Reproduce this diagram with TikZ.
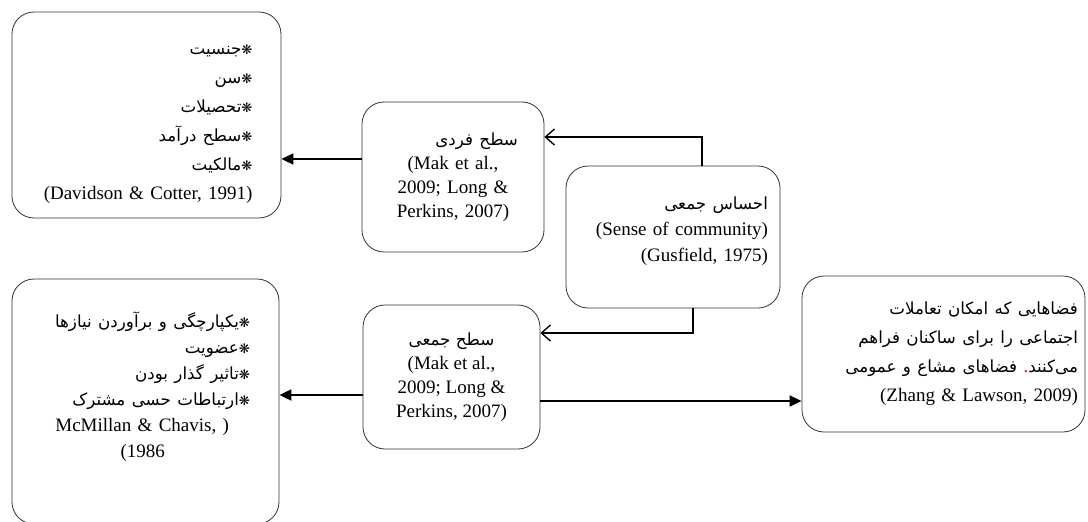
\documentclass[tikz,border=0pt]{standalone}
\usepackage{fontspec}
\setmainfont{Liberation Serif}
\newfontfamily\fa[Script=Arabic,Scale=0.88]{DejaVu Sans}
\TeXXeTstate=1
\usetikzlibrary{arrows.meta, positioning, calc}
\newcommand{\fline}[1]{{\fa\beginR #1\endR}}
\newcommand{\flk}{{\fontsize{15}{15}\selectfont ❋}}

\begin{document}
\begin{tikzpicture}[x=1pt, y=-1pt,
  rbox/.style={draw=black!80, line width=0.8pt, rounded corners=22pt, inner sep=0pt, align=right},
  fsw/.style={font=\fontsize{19}{29}\selectfont},
  fsn/.style={font=\fontsize{19}{24}\selectfont},
  solidarr/.style={-{Triangle[length=12pt,width=11pt]}, line width=1.8pt},
  openarr/.style={-{Straight Barb[length=9pt,width=16pt]}, line width=1.4pt},
]
  \useasboundingbox (0,0) rectangle (1088,522);
  % Boxes
  \node[rbox, fsw, minimum width=269pt, minimum height=206pt, text width=212pt] (vizhegi) at (146.5,115) {
    \mbox{}\\[-1pt]
    \fline{\flk جنسیت}\\
    \fline{\flk سن}\\
    \fline{\flk تحصیلات}\\
    \fline{\flk سطح درآمد}\\
    \fline{\flk مالکیت}\\
    (Davidson \& Cotter, 1991)};
  \node[rbox, font=\fontsize{19}{26}\selectfont, minimum width=267pt, minimum height=245pt, text width=209pt] (abaad) at (145.5,401.5) {
    \fline{\flk یکپارچگی و برآوردن نیازها}\\
    \fline{\flk عضویت}\\
    \fline{\flk تاثیر گذار بودن}\\
    \fline{\flk ارتباطات حسی مشترک}\\
    McMillan \& Chavis, )\hbox to 21pt{}\\
    (1986\hbox to 85pt{}\\[8pt]
    \mbox{}};
  \node[rbox, fsn, align=center, minimum width=182pt, minimum height=150pt, text width=130pt] (fardi) at (453,177) {
    \hspace*{\fill}\fline{سطح فردی}\\
    (Mak et al.,\\
    2009; Long \&\\
    Perkins, 2007)};
  \node[rbox, fsn, align=center, minimum width=177pt, minimum height=144pt] (jami) at (451.5,377) {
    \fline{سطح جمعی}\\
    (Mak et al.,\\
    2009; Long \&\\
    Perkins, 2007)};
  \node[rbox, font=\fontsize{19}{26}\selectfont, minimum width=214pt, minimum height=142pt, text width=190pt] (ehsas) at (673,237) {
    \fline{احساس جمعی}\\
    (Sense of community)\\
    (Gusfield, 1975)\\[-10pt]
    \mbox{}};
  \node[rbox, fsw, minimum width=283pt, minimum height=156pt, text width=269pt] (faza) at (943.5,354) {
    \fline{فضاهایی که امکان تعاملات}\\
    \fline{اجتماعی را برای ساکنان فراهم}\\
    \fline{فضاهای مشاع و عمومی}{\fa\ }\textcolor{red}{.}\fline{می‌کنند}\\
    (Zhang \& Lawson, 2009)};
  % Arrows
  \draw[openarr] ($(ehsas.north)+(29,0)$) |- ($(fardi.east)+(0,-40)$);
  \draw[openarr] ($(ehsas.south)+(20,0)$) |- ($(jami.east)+(0,-44)$);
  \draw[solidarr] ($(fardi.west)+(0,-18)$) -- ($(vizhegi.east |- fardi.west)+(0,-18)$);
  \draw[solidarr] ($(jami.west)+(0,18)$) -- ($(abaad.east |- jami.west)+(0,18)$);
  \draw[solidarr] ($(jami.east)+(0,24)$) -- ($(faza.west |- jami.east)+(0,24)$);
\end{tikzpicture}
\end{document}
